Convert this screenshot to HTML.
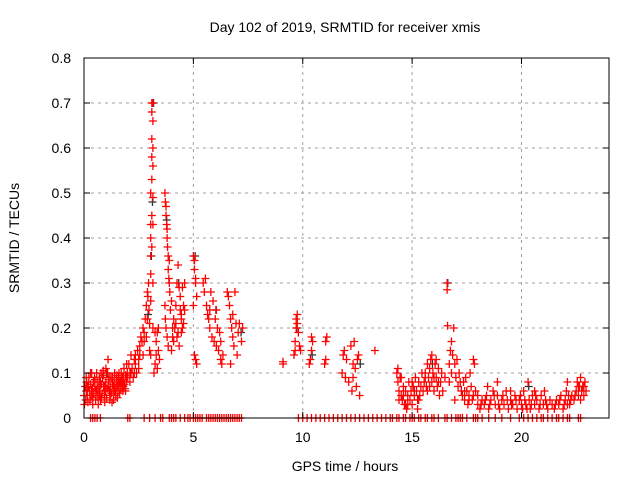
<!DOCTYPE html>
<html><head><meta charset="utf-8">
<style>
html,body{margin:0;padding:0;background:#fff;}
svg{display:block;font-family:"Liberation Sans",sans-serif;}
</style></head>
<body>
<svg id="chart" width="640" height="480" viewBox="0 0 640 480">
<rect x="0" y="0" width="640" height="480" fill="#fff"/>
<g id="grid"></g>
<g id="black"></g>
<g id="red"></g>
<rect x="84" y="58" width="525" height="360" fill="none" stroke="#000" stroke-width="1"/>
<g id="ticks"></g>
<text x="345" y="32" font-size="14" text-anchor="middle">Day 102 of 2019, SRMTID for receiver xmis</text>
<text x="345" y="471" font-size="14" text-anchor="middle">GPS time / hours</text>
<text transform="translate(19,238) rotate(-90)" font-size="14" text-anchor="middle">SRMTID / TECUs</text>
</svg>
<script>
const xTicks=[0,5,10,15,20];
const yTicks=[0,0.1,0.2,0.3,0.4,0.5,0.6,0.7,0.8];
const yTickLabels=["0","0.1","0.2","0.3","0.4","0.5","0.6","0.7","0.8"];
const redPoints=[
[0,.05],[.02,.03],[.05,.07],[.08,.04],[.1,.06],[.12,.08],[.15,.05],[.18,.035],[.2,.07],[.22,.09],[.25,.06],[.28,.04],[.3,.075],[.33,.05],[.35,.1],[.38,.065],[.4,.045],[.43,.08],[.45,.055],[.48,.09],[.5,.07],[.53,.04],[.55,.06],[.58,.1],[.6,.08],[.63,.05],[.65,.03],[.68,.07],[.7,.09],[.73,.06],[.75,.04],[.78,.1],[.8,.075],[.83,.055],[.85,.09],[.88,.105],[.9,.07],[.93,.05],[.95,.035],[.98,.06],[1,.08],[1.03,.045],[1.05,.065],[1.08,.1],[1.1,.13],[1.12,.085],[1.15,.06],[1.18,.04],[1.2,.07],[1.23,.09],[1.25,.055],[1.28,.035],[1.3,.075],[1.33,.06],[1.35,.04],[1.38,.08],[1.4,.1],[1.43,.065],[1.45,.05],[1.48,.085],[1.5,.07],[1.53,.045],[1.55,.06],[1.58,.09],[1.6,.075],[1.63,.055],[1.65,.08],[1.68,.065],[1.7,.1],[1.73,.085],[1.75,.07],[1.78,.06],[1.8,.09],[1.83,.11],[1.85,.075],[1.88,.065],[1.9,.095],[1.93,.08],[1.95,.12],[1.98,.1],
[.1,.09],[.3,.1],[.5,.085],[.7,.05],[.9,.095],[1.0,.11],[1.2,.05],[1.4,.06],[1.6,.1],[1.8,.07],[.4,.03],[.6,.065],[.8,.045],[1.1,.07],[1.3,.09],[1.5,.095],[1.7,.08],[1.9,.06],
[2,.09],[2.05,.12],[2.1,.1],[2.15,.14],[2.2,.11],[2.25,.09],[2.3,.13],[2.35,.12],[2.4,.1],[2.45,.15],[2.5,.13],[2.55,.16],[2.6,.18],[2.65,.17],[2.7,.2],[2.75,.19],[2.8,.22],[2.85,.25],[2.9,.28],[2.92,.27],[2.95,.3],[2.97,.24],[3,.21],[3,.15],[2.1,.08],[2.3,.1],[2.5,.11],[2.7,.14],[2.85,.18],[2.9,.22],
[3.05,.5],[3.05,.43],[3.05,.4],[3.05,.36],[3.05,.32],[3.05,.26],[3.05,.14],[3.1,.7],[3.1,.68],[3.1,.62],[3.1,.58],[3.1,.53],[3.1,.45],[3.1,.38],[3.15,.7],[3.15,.66],[3.15,.6],[3.15,.56],[3.15,.49],[3.15,.43],[3.15,.3],[3.15,.2],
[3.2,.1],[3.25,.12],[3.3,.14],[3.3,.17],[3.35,.19],[3.4,.2],[3.4,.15],[3.45,.13],[3.25,.19],[3.35,.11],
[3.7,.5],[3.72,.48],[3.75,.47],[3.75,.45],[3.78,.43],[3.8,.42],[3.8,.4],[3.82,.38],[3.85,.36],[3.85,.33],[3.88,.31],[3.9,.3],[3.7,.25],[3.72,.22],[3.75,.2],[3.8,.18],[3.85,.16],[3.9,.35],[3.92,.28],[3.95,.24],
[4,.15],[4.05,.18],[4.1,.22],[4.15,.2],[4.2,.25],[4.25,.3],[4.3,.34],[4.35,.29],[4.4,.27],[4.45,.23],[4.5,.2],[4.55,.25],[4.6,.3],[4.1,.17],[4.2,.21],[4.3,.19],[4.4,.24],[4.5,.29],[4.0,.26],[4.35,.16],[4.45,.22],[4.6,.24],
[5,.36],[5.05,.35],[5.05,.33],[5.1,.31],[5.1,.3],[5.15,.27],[5.0,.25],[5.05,.14],[5.1,.13],[5.15,.12],
[5.45,.3],[5.5,.28],[5.55,.31],[5.6,.25],[5.7,.22],[5.75,.2],[5.8,.28],[5.85,.18],[5.9,.26],[5.95,.17],[6,.22],[6.05,.16],[6.1,.2],[6.15,.15],[6.2,.19],[6.25,.13],[6.3,.12],[6.35,.14],[5.65,.23],[6.05,.24],
[6.55,.28],[6.6,.27],[6.65,.25],[6.7,.22],[6.75,.2],[6.8,.18],[6.85,.16],[6.9,.28],[6.95,.21],[7,.14],[7.05,.19],[7.1,.21],[6.7,.12],[7.2,.17],[7.25,.2],
[9.1,.12],[9.1,.125],[9.6,.14],[9.65,.17],[9.7,.2],[9.7,.22],[9.75,.23],[9.8,.19],[9.85,.16],[9.9,.15],[9.75,.21],[9.65,.15],
[10.3,.12],[10.35,.13],[10.4,.15],[10.4,.18],[10.45,.17],[11,.12],[11.05,.13],[11.05,.17],[11.1,.18],
[11.8,.1],[11.85,.14],[11.9,.15],[11.95,.09],[12.0,.13],[12.1,.08],[12.2,.16],[12.25,.06],[12.3,.12],[12.35,.17],[12.4,.11],[12.45,.07],[12.5,.13],[12.55,.14],[12.6,.05],[12.3,.09],[13.3,.15],
[14.3,.1],[14.35,.08],[14.4,.06],[14.45,.09],[14.5,.05],[14.55,.04],[14.6,.07],[14.65,.03],[14.7,.06],[14.75,.02],[14.8,.05],[14.85,.08],[14.9,.04],[14.95,.06],[15,.03],[15.05,.07],[15.1,.05],[15.15,.09],[15.2,.06],[15.25,.04],[15.3,.08],[15.35,.05],[15.4,.07],[15.45,.1],[14.35,.11],[14.5,.09],[14.7,.03],[15.0,.08],[15.25,.02],
[15.55,.08],[15.6,.1],[15.65,.07],[15.7,.12],[15.75,.09],[15.8,.11],[15.85,.13],[15.9,.08],[15.95,.1],[16,.06],[16.05,.12],[16.1,.09],[16.15,.07],[16.2,.11],[16.25,.05],[16.3,.08],[16.35,.1],[15.7,.06],[15.9,.14],[16.1,.13],
[16.6,.3],[16.6,.285],[16.62,.205],[16.7,.12],[16.75,.15],[16.8,.17],[16.85,.14],[16.9,.2],[16.95,.12],[16.7,.08],[16.8,.1],[17,.09],[17.05,.13],[17.1,.07],[17.15,.1],[16.95,.04],
[17.25,.06],[17.3,.05],[17.35,.08],[17.4,.04],[17.5,.06],[17.55,.03],[17.6,.05],[17.7,.07],[17.75,.04],[17.8,.13],[17.85,.12],[17.9,.06],[18,.03],[17.45,.09],[17.65,.1],
[18.1,.02],[18.2,.04],[18.3,.03],[18.4,.05],[18.5,.02],[18.6,.04],[18.7,.06],[18.8,.03],[18.9,.05],[19,.02],[19.1,.04],[19.2,.03],[19.3,.06],[19.4,.02],[19.5,.04],[19.6,.03],[19.7,.05],[19.8,.02],[19.9,.04],[20,.03],[20.1,.06],[20.2,.03],[20.3,.08],[20.35,.04],[20.4,.02],[20.5,.05],[20.6,.03],[20.7,.04],[20.8,.02],[20.9,.05],[21,.03],[21.1,.04],[21.2,.02],[18.45,.07],[18.9,.08],[19.5,.06],[20.05,.02],[20.6,.06],[21.05,.06],
[21.5,.02],[21.6,.04],[21.7,.03],[21.8,.05],[21.9,.02],[22,.04],[22.05,.06],[22.1,.08],[22.15,.05],[22.2,.03],[22.3,.05],[22.4,.04],[22.5,.06],[22.55,.08],[22.6,.05],[22.65,.07],[22.7,.09],[22.75,.06],[22.8,.07],[22.85,.05],[22.9,.08],[22.95,.06],[22.1,.03],[22.6,.07]
];
const redPoints2=[
[14.4,.04],[14.6,.05],[14.8,.03],[15.1,.06],[15.3,.04],[15.5,.06],[15.6,.09],[15.8,.07],[16.0,.09],[16.2,.08],[16.4,.06],[16.5,.09],[17.2,.08],[17.4,.06],[17.6,.04],[17.8,.05],[18.0,.05],[18.15,.03],[18.35,.04],[18.55,.03],[18.75,.05],[18.95,.03],[19.15,.05],[19.35,.04],[19.55,.03],[19.75,.04],[19.95,.05],[20.15,.04],[20.25,.02],[20.45,.03],[20.65,.05],[20.85,.03],[21.15,.03],[21.3,.04],[21.4,.03],[21.55,.03],[21.75,.04],[21.95,.03],[22.25,.04],[22.45,.05],[22.7,.04],[22.85,.07],
[0.15,.07],[0.35,.06],[0.55,.05],[0.75,.08],[0.95,.07],[1.15,.09],[1.35,.07],[1.55,.08],[1.75,.09],[1.95,.09],[2.15,.1],[2.35,.14],[2.55,.14],[2.75,.17],
[4.05,.2],[4.25,.18],[4.45,.19],[4.55,.21],[5.75,.24],[6.25,.17],[6.8,.23]
];
const zeroTimes=[0.3,0.4,0.5,0.6,0.75,2.0,2.1,2.75,3.0,3.25,3.5,3.6,3.9,4.0,4.1,4.2,4.4,4.6,4.75,4.85,5.0,5.1,5.2,5.3,5.4,5.6,5.7,5.8,5.9,6.0,6.1,6.2,6.3,6.4,6.5,6.6,6.7,6.8,6.9,7.0,7.1,7.2,9.8,10.0,10.2,10.4,10.6,10.8,11.0,11.2,11.4,11.6,11.8,12.0,12.2,12.4,12.6,12.8,13.0,13.2,13.4,13.6,13.8,14.0,14.1,14.3,14.4,14.6,14.7,14.9,15.0,15.1,15.3,15.4,15.6,15.7,15.9,16.0,16.2,16.5,16.6,16.8,17.0,17.1,17.2,17.3,17.5,17.8,17.9,18.0,18.2,18.5,18.8,19.1,19.5,19.9,20.1,20.3,20.5,20.7,20.9,21.0,21.2,21.4,21.6,21.7,21.9,22.1,22.2,22.6,22.7];
const blackPoints=[[3.1,.48],[3.05,.36],[3.15,.7],[3.75,.44],[5.05,.36],[9.7,.2],[16.6,.3],[6.0,.24],[4.3,.3],[2.9,.23],[1.0,.1],[15.9,.12],[10.4,.14],[7.15,.19],[12.6,.12],[20.3,.07]];

const X=t=>84+t*(525/24);
const Y=v=>418-v*450;
const NS="http://www.w3.org/2000/svg";
const grid=document.getElementById('grid'), ticks=document.getElementById('ticks');
xTicks.forEach((t,i)=>{
  if(t>0){const l=document.createElementNS(NS,'line');
  
  
  l.setAttribute('x1',X(t));l.setAttribute('x2',X(t));l.setAttribute('y1',58);l.setAttribute('y2',418);
  l.setAttribute('stroke','#a0a0a0');l.setAttribute('stroke-dasharray','3,4');grid.appendChild(l);}
  const k=document.createElementNS(NS,'path');
  
  
  k.setAttribute('d',`M${X(t)},418v-6M${X(t)},58v6`);k.setAttribute('stroke','#000');ticks.appendChild(k);
  const tx=document.createElementNS(NS,'text');
  
  
  tx.setAttribute('x',X(t));tx.setAttribute('y',442);tx.setAttribute('font-size','14');tx.setAttribute('text-anchor','middle');
  tx.textContent=String(t);ticks.appendChild(tx);
});
yTicks.forEach((v,i)=>{
  if(v>0&&v<0.8){const l=document.createElementNS(NS,'line');
  
  
  l.setAttribute('x1',84);l.setAttribute('x2',609);l.setAttribute('y1',Y(v));l.setAttribute('y2',Y(v));
  l.setAttribute('stroke','#a0a0a0');l.setAttribute('stroke-dasharray','3,4');grid.appendChild(l);}
  const k=document.createElementNS(NS,'path');
  
  
  k.setAttribute('d',`M84,${Y(v)}h6M609,${Y(v)}h-6`);k.setAttribute('stroke','#000');ticks.appendChild(k);
  const tx=document.createElementNS(NS,'text');
  
  
  tx.setAttribute('x',71);tx.setAttribute('y',Y(v)+5);tx.setAttribute('font-size','14');tx.setAttribute('text-anchor','end');
  tx.textContent=yTickLabels[i];ticks.appendChild(tx);
});
function plus(g,t,v,color,name){
  const p=document.createElementNS(NS,'path');
  
  
  const x=X(t),y=Y(v);
  p.setAttribute('d',`M${x-4},${y}h8M${x},${y-4}v8`);
  p.setAttribute('stroke',color);p.setAttribute('stroke-width','1.3');
  g.appendChild(p);
}
const bg=document.getElementById('black'), rg=document.getElementById('red');
blackPoints.forEach(p=>plus(bg,p[0]+0.03,p[1],'#333','black-point'));
redPoints.forEach(p=>plus(rg,p[0],p[1],'#ff0000','red-point'));
redPoints2.forEach(p=>plus(rg,p[0],p[1],'#ff0000','red-point'));
zeroTimes.forEach(t=>plus(rg,t,0,'#ff0000','zero-point'));
</script>
</body></html>
